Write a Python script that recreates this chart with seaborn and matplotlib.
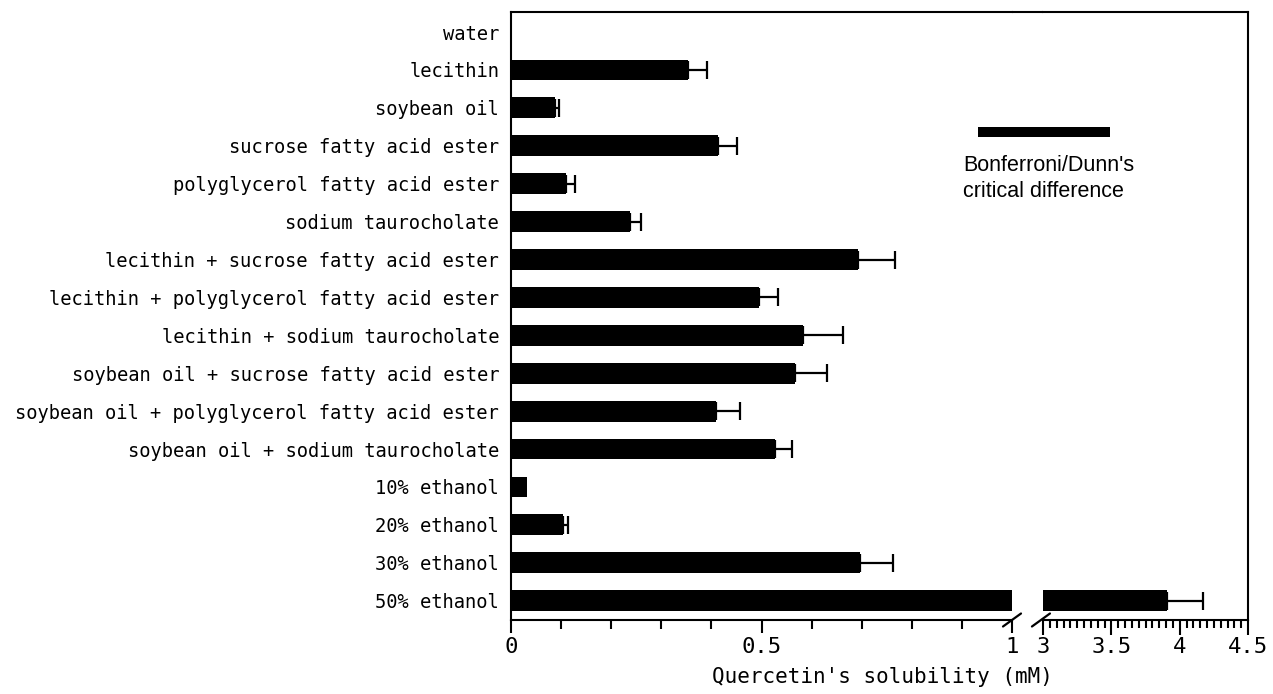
import numpy as np
import pandas as pd
import seaborn as sns
import matplotlib.pyplot as plt
from matplotlib.lines import Line2D
from matplotlib.ticker import MultipleLocator
import matplotlib.transforms as mtransforms

# ---------------- data ----------------
categories = [
    "water",
    "lecithin",
    "soybean oil",
    "sucrose fatty acid ester",
    "polyglycerol fatty acid ester",
    "sodium taurocholate",
    "lecithin + sucrose fatty acid ester",
    "lecithin + polyglycerol fatty acid ester",
    "lecithin + sodium taurocholate",
    "soybean oil + sucrose fatty acid ester",
    "soybean oil + polyglycerol fatty acid ester",
    "soybean oil + sodium taurocholate",
    "10% ethanol",
    "20% ethanol",
    "30% ethanol",
    "50% ethanol",
]
solubility = [0.0, 0.353, 0.088, 0.413, 0.110, 0.238, 0.692, 0.495, 0.583,
              0.567, 0.409, 0.527, 0.032, 0.104, 0.697, 3.905]
error = [0.0, 0.038, 0.008, 0.038, 0.018, 0.022, 0.074, 0.038, 0.080,
         0.064, 0.048, 0.034, 0.0, 0.010, 0.066, 0.265]
critical_difference = 0.264

left_ticks = [0, 0.5, 1]
left_ticklabels = ["0", "0.5", "1"]
right_ticks = [3, 3.5, 4, 4.5]
right_ticklabels = ["3", "3.5", "4", "4.5"]
x_label = "Quercetin's solubility (mM)"
legend_label = "Bonferroni/Dunn's\ncritical difference"

# ---------------- style ----------------
sns.set_style("white")
plt.rcParams['font.family'] = ['DejaVu Sans Mono', 'DejaVu Sans']
plt.rcParams.update({
    "text.color": "black",
    "axes.labelcolor": "black",
    "xtick.color": "black",
    "ytick.color": "black",
    "axes.edgecolor": "black",
})

W, H = 1273, 694
fig = plt.figure(figsize=(W / 100, H / 100), dpi=100)

ax_left_px, ax_mid_px, ax_right0_px, ax_right_px = 511, 1012, 1043, 1248
top_px, bottom_px = 12, 620
fb = 1 - bottom_px / H
fh = (bottom_px - top_px) / H
ax1 = fig.add_axes([ax_left_px / W, fb, (ax_mid_px - ax_left_px) / W, fh])
ax2 = fig.add_axes([ax_right0_px / W, fb, (ax_right_px - ax_right0_px) / W, fh])
ax2.patch.set_visible(False)

df = pd.DataFrame({"condition": categories, "solubility": solubility, "err": error})
mask = df["err"] > 0
ypos = np.arange(len(categories))[mask.values]

for ax in (ax1, ax2):
    sns.barplot(data=df, x="solubility", y="condition", orient="h",
                color="black", saturation=1, width=0.55, linewidth=0,
                errorbar=None, ax=ax, zorder=2)
    ax.errorbar(df.loc[mask, "solubility"], ypos,
                xerr=[np.zeros(mask.sum()), df.loc[mask, "err"]],
                fmt="none", ecolor="black", elinewidth=1.6,
                capsize=6.5, capthick=1.6, zorder=1)
    ax.set_ylim(15.51, -0.53)
    ax.set_xlabel("")
    ax.set_ylabel("")
    for s in ax.spines.values():
        s.set_linewidth(1.5)
        s.set_color("black")

# left axis
ax1.set_xlim(0, 1)
ax1.set_xticks(left_ticks, labels=left_ticklabels)
ax1.xaxis.set_minor_locator(MultipleLocator(0.1))
ax1.spines["right"].set_visible(False)
ax1.tick_params(axis="x", which="major", direction="out", length=9.5, width=1.5,
                labelsize=16, pad=2.5, bottom=True)
ax1.tick_params(axis="x", which="minor", direction="out", length=6.5, width=1.5,
                bottom=True)
ax1.tick_params(axis="y", length=0, labelsize=13.5, pad=8.5)

# right axis
ax2.set_xlim(3, 4.5)
ax2.set_xticks(right_ticks, labels=right_ticklabels)
ax2.xaxis.set_minor_locator(MultipleLocator(0.05))
ax2.spines["left"].set_visible(False)
ax2.tick_params(axis="x", which="major", direction="out", length=10.5, width=1.5,
                labelsize=16, pad=1.5, bottom=True)
ax2.tick_params(axis="x", which="minor", direction="out", length=6, width=1.5,
                bottom=True)
ax2.tick_params(axis="y", left=False, labelleft=False)

# continuous top frame across the gap
ytop = 1 - top_px / H
fig.add_artist(Line2D([ax_mid_px / W, ax_right0_px / W], [ytop, ytop],
                      transform=fig.transFigure, color="black", lw=1.5))

# break marks
dy = 6.5 / (bottom_px - top_px)
dx1 = 9 / (ax_mid_px - ax_left_px)
dx2 = 9 / (ax_right_px - ax_right0_px)
ax1.plot([1 - dx1, 1 + dx1], [-dy, dy], transform=ax1.transAxes,
         color="black", lw=1.6, clip_on=False)
ax2.plot([-0.01 - dx2, -0.01 + dx2], [-dy, dy], transform=ax2.transAxes,
         color="black", lw=1.6, clip_on=False)

# critical difference legend
blend = mtransforms.blended_transform_factory(ax1.transData, ax1.transAxes)
cd_x0 = 0.932
ax1.plot([cd_x0, cd_x0 + critical_difference], [0.8026, 0.8026], transform=blend,
         color="black", lw=7.2, solid_capstyle="butt", clip_on=False, zorder=5)
ax1.text(0.902, 0.764, legend_label, transform=blend, ha="left", va="top",
         family=["Liberation Sans", "DejaVu Sans"], fontsize=15.5,
         linespacing=1.28, clip_on=False, color="black", zorder=5)

# x label centred on whole axis
fig.text(882 / W, 1 - 683 / H, x_label, ha="center", va="baseline", fontsize=15,
         color="black")

fig.savefig("out.png", dpi=100)
